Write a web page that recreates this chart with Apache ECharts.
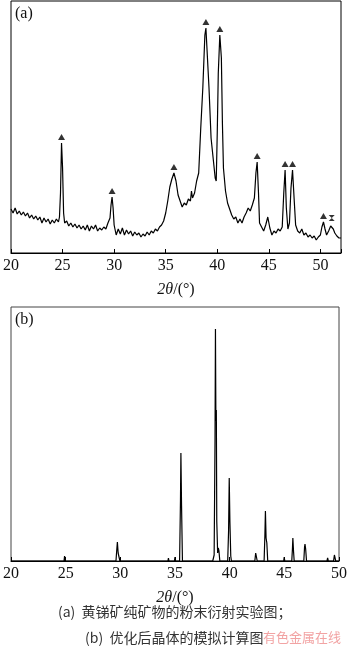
<!DOCTYPE html>
<html>
<head>
<meta charset="utf-8">
<script src="https://cdn.jsdelivr.net/npm/echarts@6/dist/echarts.min.js"></script>
<style>
  html, body { margin: 0; padding: 0; background: #fff; }
  #main { width: 350px; height: 650px; }
</style>
</head>
<body>
<div id="main"></div>
<script>
// (a) 实验图 [2θ, 强度]，强度按图上读出的相对高度
var expData = [
  [20.0,44],[20.2,40],[20.4,45],[20.6,39],[20.8,42],[21.0,38],[21.2,41],[21.4,37],[21.6,40],[21.8,35],
  [22.0,38],[22.2,34],[22.4,37],[22.6,33],[22.8,36],[23.0,30],[23.2,35],[23.4,31],[23.6,34],[23.8,29],
  [24.0,33],[24.2,30],[24.4,34],[24.6,31],[24.7,36],[24.8,60],[24.9,110],[25.0,85],[25.1,40],[25.2,30],
  [25.4,32],[25.6,27],[25.8,30],[26.0,26],[26.2,29],[26.4,25],[26.6,28],[26.8,24],[27.0,27],[27.2,23],
  [27.4,28],[27.6,22],[27.8,27],[28.0,24],[28.2,28],[28.4,22],[28.6,25],[28.8,23],[29.0,26],[29.2,24],
  [29.4,30],[29.6,35],[29.7,48],[29.8,56],[29.9,45],[30.0,28],[30.2,18],[30.4,24],[30.6,19],[30.8,25],
  [31.0,18],[31.2,23],[31.4,19],[31.6,22],[31.8,17],[32.0,21],[32.2,18],[32.4,20],[32.6,16],[32.8,19],
  [33.0,17],[33.2,21],[33.4,18],[33.6,22],[33.8,20],[34.0,24],[34.2,22],[34.4,26],[34.6,28],[34.8,32],
  [35.0,40],[35.2,52],[35.4,66],[35.6,74],[35.8,80],[36.0,72],[36.2,58],[36.4,52],[36.6,46],[36.8,50],
  [37.0,48],[37.2,54],[37.4,52],[37.5,62],[37.6,55],[37.8,60],[38.0,72],[38.2,80],[38.4,125],[38.6,165],
  [38.8,218],[38.9,225],[39.0,205],[39.2,165],[39.4,115],[39.6,95],[39.8,75],[39.9,72],[40.0,120],[40.1,180],
  [40.25,218],[40.4,195],[40.5,130],[40.6,85],[40.8,62],[41.0,50],[41.2,44],[41.4,38],[41.6,34],[41.8,36],
  [42.0,30],[42.2,34],[42.4,30],[42.6,36],[42.8,40],[43.0,45],[43.2,42],[43.4,48],[43.6,55],[43.75,80],
  [43.87,91],[44.0,60],[44.1,30],[44.3,26],[44.5,22],[44.7,28],[44.9,36],[45.0,38],[45.1,25],[45.3,18],
  [45.5,22],[45.7,20],[45.9,24],[46.1,22],[46.3,26],[46.45,60],[46.58,83],[46.7,45],[46.85,24],[47.0,30],
  [47.15,65],[47.3,83],[47.45,55],[47.6,28],[47.8,22],[48.0,20],[48.2,24],[48.4,18],[48.6,20],[48.8,16],
  [49.0,18],[49.2,15],[49.4,17],[49.6,13],[49.8,16],[50.0,18],[50.15,26],[50.3,31],[50.45,24],[50.6,18],
  [50.8,22],[51.0,27],[51.1,29],[51.25,24],[51.4,20],[51.6,17],[51.8,15],[52.0,15]
];
// ▲ 标记的峰
var markPeaks = [[24.9,110],[29.8,56],[35.8,80],[38.9,225],[40.25,218],[43.87,91],[46.58,83],[47.3,83],[50.3,31]];
var otherPeaks = [[51.1,29]];

// (b) 模拟计算图
var simData = [
  [20,0],[24.85,0],[24.9,5],[24.95,0],
  [29.6,0],[29.68,12],[29.73,19],[29.8,8],[29.9,6],[29.96,0],
  [34.35,0],[34.4,3],[34.45,0],[34.95,0],[35.0,4],[35.05,0],
  [35.42,0],[35.5,60],[35.54,108],[35.6,55],[35.68,0],
  [38.45,0],[38.58,6],[38.66,120],[38.7,232],[38.74,140],[38.78,151],[38.82,40],[38.9,8],[38.96,13],[39.02,10],[39.1,0],
  [39.82,0],[39.9,30],[39.96,83],[40.02,40],[40.1,5],[40.16,0],
  [42.3,0],[42.38,8],[42.45,6],[42.52,0],
  [43.15,0],[43.22,25],[43.27,50],[43.33,23],[43.4,18],[43.48,0],
  [44.94,0],[44.99,4],[45.04,0],
  [45.68,0],[45.74,12],[45.78,23],[45.84,10],[45.9,0],
  [46.78,0],[46.85,14],[46.89,17],[46.95,12],[47.03,0],
  [48.9,0],[48.96,3],[49.02,0],
  [49.5,0],[49.58,6],[49.64,4],[49.7,0],[50,0]
];

var xTicks = [20, 25, 30, 35, 40, 45, 50];
var captionA = '(a)  黄锑矿纯矿物的粉末衍射实验图；';
var captionB = '(b)  优化后晶体的模拟计算图';

var serif = 'Liberation Serif';

function xAxisOf(idx, max) {
  return {
    type: 'value', gridIndex: idx, min: 20, max: max, interval: 5,
    name: '{i|2θ}{n|/(°)}', nameLocation: 'middle', nameGap: 29,
    nameTextStyle: {
      rich: {
        i: { fontStyle: 'italic', fontFamily: serif, fontSize: 16, color: '#111' },
        n: { fontFamily: serif, fontSize: 16, color: '#111' }
      }
    },
    axisLine: { lineStyle: { color: '#000', width: 1 } },
    axisTick: { inside: true, length: 4, lineStyle: { color: '#000' } },
    axisLabel: { fontFamily: serif, fontSize: 16, color: '#111', margin: 5,
      formatter: function (v) { return xTicks.indexOf(v) >= 0 ? v : ''; } },
    splitLine: { show: false }
  };
}

var chart = echarts.init(document.getElementById('main'));
chart.setOption({
  animation: false,
  backgroundColor: '#fff',
  grid: [
    { left: 10, right: 9, top: 1, bottom: 397, show: true, borderColor: '#000', borderWidth: 1 },
    { left: 10, right: 8, top: 307, bottom: 89, show: true, borderColor: '#444', borderWidth: 1 }
  ],
  xAxis: [xAxisOf(0, 52), xAxisOf(1, 50)],
  yAxis: [
    { type: 'value', gridIndex: 0, min: 0, max: 252, show: false },
    { type: 'value', gridIndex: 1, min: 0, max: 254, show: false }
  ],
  graphic: [
    { type: 'text', left: 15, top: 6, style: { text: '(a)', fontFamily: serif, fontSize: 16, fill: '#111' } },
    { type: 'text', left: 15, top: 312, style: { text: '(b)', fontFamily: serif, fontSize: 16, fill: '#111' } },
    { type: 'text', left: 58, top: 605, style: { text: captionA, fontFamily: 'Noto Sans CJK SC', fontSize: 14, fill: '#333' } },
    { type: 'text', left: 85, top: 631, style: { text: captionB, fontFamily: 'Noto Sans CJK SC', fontSize: 14, fill: '#333' } },
    { type: 'text', left: 263, top: 631, style: { text: '有色金属在线', fontFamily: 'Noto Sans CJK SC', fontSize: 13, fill: '#f2a3a3' } }
  ],
  series: [
    { type: 'line', xAxisIndex: 0, yAxisIndex: 0, data: expData, showSymbol: false,
      lineStyle: { color: '#000', width: 1.2 } },
    { type: 'scatter', xAxisIndex: 0, yAxisIndex: 0, data: markPeaks, symbol: 'triangle',
      symbolSize: [7, 6], symbolOffset: [0, -6], itemStyle: { color: '#000' } },
    { type: 'scatter', xAxisIndex: 0, yAxisIndex: 0, data: otherPeaks,
      symbol: 'path://M0,0L10,0L0,10L10,10Z', symbolSize: [6, 6], symbolOffset: [0, -6],
      itemStyle: { color: '#000' } },
    { type: 'line', xAxisIndex: 1, yAxisIndex: 1, data: simData, showSymbol: false,
      lineStyle: { color: '#000', width: 1.2 } }
  ]
});
</script>
</body>
</html>
